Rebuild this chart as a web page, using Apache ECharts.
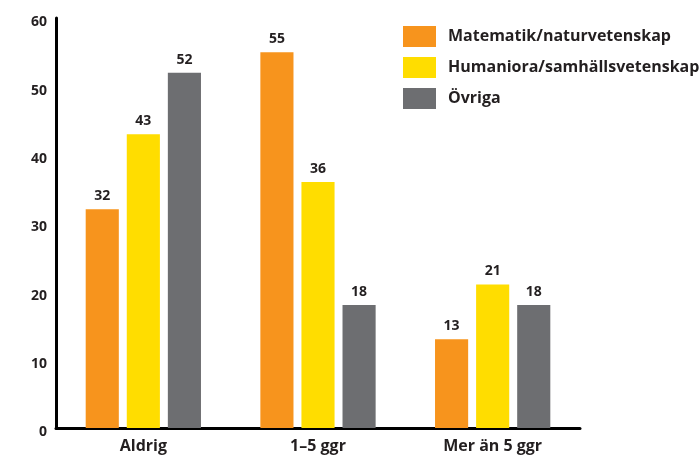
<!DOCTYPE html>
<html>
<head>
<meta charset="utf-8">
<script src="https://cdn.jsdelivr.net/npm/echarts@6/dist/echarts.min.js"></script>
<style>
  html, body { margin: 0; padding: 0; background: #fff; }
  #main { width: 700px; height: 455px; }
</style>
</head>
<body>
<div id="main"></div>
<script>
  var categories = ['Aldrig', '1\u20135 ggr', 'Mer \u00e4n 5 ggr'];
  var seriesNames = ['Matematik/naturvetenskap', 'Humaniora/samh\u00e4llsvetenskap', '\u00d6vriga'];
  var matematik = [32, 55, 13];
  var humaniora = [43, 36, 21];
  var ovriga = [52, 18, 18];
  var yTicks = [0, 60, 10];

  var colors = ['#F7941D', '#FFDD00', '#6D6E71'];
  var font = '"Open Sans", "DejaVu Sans", sans-serif';
  var dark = '#231F20';

  function bar(name, data, color) {
    return {
      name: name,
      type: 'bar',
      data: data,
      barGap: '24%',
      barCategoryGap: '34%',
      itemStyle: { color: color },
      label: {
        show: true,
        position: 'top',
        distance: 6,
        color: dark,
        fontFamily: font,
        fontWeight: 'bold',
        fontSize: 14
      }
    };
  }

  var myChart = echarts.init(document.getElementById('main'));
  myChart.setOption({
    backgroundColor: '#fff',
    animation: false,
    color: colors,
    grid: { left: 56, right: 120, top: 18, bottom: 27, containLabel: false },
    legend: {
      orient: 'vertical',
      left: 403,
      top: 26,
      padding: 0,
      itemWidth: 33,
      itemHeight: 21,
      itemGap: 10,
      icon: 'rect',
      data: seriesNames,
      textStyle: {
        color: dark,
        fontFamily: font,
        fontWeight: 'bold',
        fontSize: 16,
        padding: [0, 0, 0, 7]
      }
    },
    xAxis: {
      type: 'category',
      data: categories,
      axisLine: { lineStyle: { color: '#000', width: 3 } },
      axisTick: { show: false },
      axisLabel: {
        color: dark,
        fontFamily: font,
        fontWeight: 'bold',
        fontSize: 16,
        margin: 10
      }
    },
    yAxis: {
      type: 'value',
      min: yTicks[0],
      max: yTicks[1],
      interval: yTicks[2],
      axisLine: { show: true, lineStyle: { color: '#000', width: 3 } },
      axisTick: { show: false },
      splitLine: { show: false },
      axisLabel: {
        color: dark,
        fontFamily: font,
        fontWeight: 'bold',
        fontSize: 14,
        margin: 9,
        verticalAlign: 'top',
        lineHeight: 9
      }
    },
    series: [
      bar(seriesNames[0], matematik, colors[0]),
      bar(seriesNames[1], humaniora, colors[1]),
      bar(seriesNames[2], ovriga, colors[2])
    ]
  });
</script>
</body>
</html>
